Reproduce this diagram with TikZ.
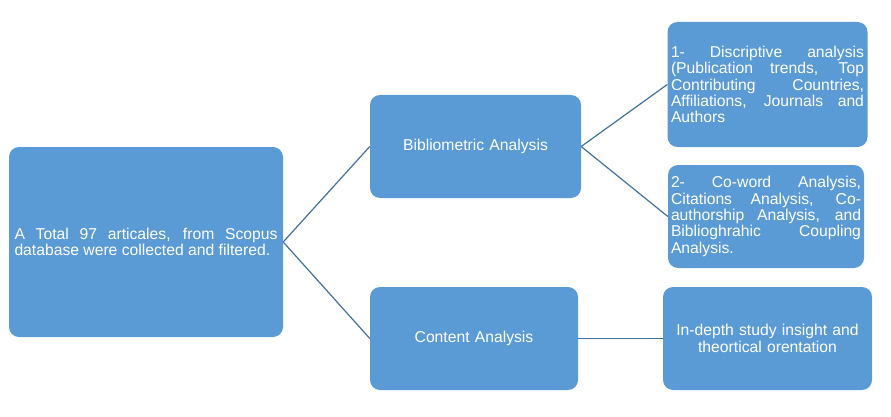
\documentclass[tikz,border=0pt]{standalone}
\usepackage{fontspec}
\setmainfont{Liberation Sans}
\definecolor{boxblue}{HTML}{5B9BD5}
\definecolor{linkblue}{HTML}{41719C}
\tikzset{
  box/.style={fill=boxblue, rounded corners=10pt, text=white, inner sep=0pt, draw=none,
    font=\fontsize{15.7}{16.3}\selectfont,
    execute at begin node={\hyphenpenalty=10000\tolerance=10000\emergencystretch=20pt}},
  link/.style={draw=linkblue, line width=1.2pt}
}
\begin{document}
\begin{tikzpicture}[x=1pt,y=-1pt]
\useasboundingbox (0,0) rectangle (891,417);
\node[box, minimum width=274pt, minimum height=190pt, text width=263pt, align=justify] (src) at (146,242)
  {A Total 97 articales, from Scopus\linebreak database were collected and filtered.};
\node[box, minimum width=211pt, minimum height=103pt, text width=200pt, align=center] (bib) at (475.5,146.5)
  {Bibliometric Analysis};
\node[box, minimum width=208pt, minimum height=103pt, text width=200pt, align=center] (con) at (474,338.5)
  {Content Analysis};
\node[box, minimum width=200pt, minimum height=125pt, text width=193pt, align=justify] (b1) at (767.5,84.5)
  {1- Discriptive analysis\linebreak (Publication trends, Top\linebreak Contributing Countries,\linebreak Affiliations, Journals and\linebreak Authors};
\node[box, minimum width=196pt, minimum height=103pt, text width=190pt, align=justify] (b2) at (766,216.5)
  {2- Co-word Analysis,\linebreak Citations Analysis, Co-\linebreak authorship Analysis, and\linebreak Biblioghrahic Coupling\linebreak Analysis.};
\node[box, minimum width=209pt, minimum height=103pt, text width=200pt, align=center] (b3) at (767.5,338.5)
  {In-depth study insight and\\theortical orentation};
\draw[link] (src.east) -- (bib.west);
\draw[link] (src.east) -- (con.west);
\draw[link] (bib.east) -- (b1.west);
\draw[link] (bib.east) -- (b2.west);
\draw[link] (con.east) -- (b3.west);
\end{tikzpicture}
\end{document}
